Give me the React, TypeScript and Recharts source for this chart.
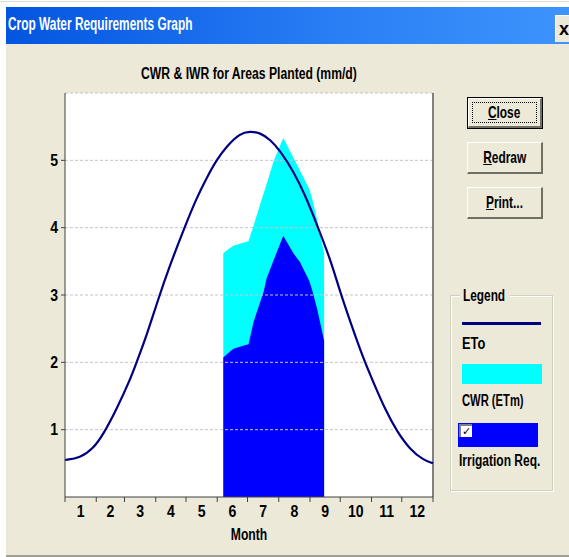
import React from "react"
import { ComposedChart, Line, Area, XAxis, YAxis, CartesianGrid, ReferenceLine } from "recharts"

// reference evapotranspiration (day of year -> mm/d)
const etoDays = [0, 15, 28, 38, 51, 64.5, 71, 81, 92.5, 104, 119, 130.5, 140.5, 150.5, 160.5, 173.5, 183.5, 193.5, 203.5, 213.5, 226.5, 238, 250, 263, 273, 283, 296, 306, 317.5, 329, 342.5, 355.5, 365]
const etoValues = [0.55, 0.58, 0.72, 0.93, 1.3, 1.74, 2.0, 2.4, 2.94, 3.44, 4.02, 4.44, 4.74, 5.01, 5.21, 5.4, 5.43, 5.41, 5.31, 5.14, 4.84, 4.49, 4.04, 3.54, 3.04, 2.6, 2.05, 1.7, 1.3, 0.98, 0.7, 0.55, 0.5]

// planted period: crop water requirement and irrigation requirement
const cropDays = [157, 162, 167, 175, 182, 187, 197, 200, 207, 216.5, 226.5, 233, 242, 245, 250, 257]
const cwrValues = [3.62, 3.68, 3.73, 3.77, 3.8, 4.03, 4.51, 4.65, 4.99, 5.33, 5.04, 4.85, 4.58, 4.44, 4.12, 3.62]
const iwrValues = [2.07, 2.14, 2.2, 2.24, 2.27, 2.6, 3.05, 3.25, 3.52, 3.88, 3.62, 3.49, 3.22, 3.08, 2.8, 2.32]

const monthStarts = [0, 31, 59, 90, 120, 151, 181, 212, 243, 273, 304, 334, 365]
const monthMids = [15.5, 45, 74.5, 105, 135.5, 166, 196.5, 227.5, 258, 288.5, 319, 349.5]
const monthLabels = ["1", "2", "3", "4", "5", "6", "7", "8", "9", "10", "11", "12"]
const yTicks = [1, 2, 3, 4, 5]

const FONT = '"Liberation Sans", Arial, sans-serif'
const FACE = "#ECE9D8"

// merge both series into one table sorted by day
const rows: any[] = []
etoDays.forEach((d, i) => rows.push({ day: d, eto: etoValues[i] }))
cropDays.forEach((d, i) => rows.push({ day: d, cwr: cwrValues[i], iwr: iwrValues[i] }))
rows.sort((a, b) => a.day - b.day)

// the old dialog font is a narrow one, squeeze text horizontally
function Sq({ s, origin = "left", children }: { s: number; origin?: string; children: any }) {
    return (
        <span style={{ display: "inline-block", transform: `scaleX(${s})`, transformOrigin: origin, whiteSpace: "nowrap" }}>
            {children}
        </span>
    )
}

const YTick = ({ x, y, payload }: any) => (
    <text
        transform={`translate(${x},${y}) scale(0.88,1)`}
        textAnchor="end"
        dy="0.36em"
        fontSize={16}
        fontFamily={FONT}
        fontWeight="bold"
        fill="#000"
    >
        {payload.value}
    </text>
)

const MonthTick = ({ x, y, payload }: any) => (
    <text
        transform={`translate(${x},${y}) scale(0.88,1)`}
        textAnchor="middle"
        dy="0.75em"
        fontSize={16}
        fontFamily={FONT}
        fontWeight="bold"
        fill="#000"
    >
        {monthLabels[monthMids.indexOf(payload.value)]}
    </text>
)

function Btn({ label, top, isDefault }: { label: string; top: number; isDefault?: boolean }) {
    return (
        <div
            style={{
                position: "absolute",
                left: 467,
                top,
                width: 76,
                height: 32,
                boxSizing: "border-box",
                border: isDefault ? "1px solid #000" : "none",
                background: FACE,
            }}
        >
            <div
                style={{
                    position: "absolute",
                    inset: 0,
                    borderTop: "1px solid #fff",
                    borderLeft: "1px solid #fff",
                    borderRight: "2px solid #716f64",
                    borderBottom: "2px solid #716f64",
                    display: "flex",
                    alignItems: "center",
                    justifyContent: "center",
                    fontFamily: FONT,
                    fontWeight: "bold",
                    fontSize: 17,
                    color: "#000",
                }}
            >
                {isDefault && (
                    <div style={{ position: "absolute", left: 3, top: 3, right: 3, bottom: 3, border: "1px dotted #000" }} />
                )}
                <Sq s={0.7} origin="center">
                    <span style={{ textDecoration: "underline" }}>{label[0]}</span>
                    {label.slice(1)}
                </Sq>
            </div>
        </div>
    )
}

const legendText = { position: "absolute" as const, fontFamily: FONT, fontWeight: "bold", fontSize: 16 }

export default function App() {
    return (
        <div style={{ position: "absolute", left: 0, top: 0, width: 569, height: 557, background: "#fff", overflow: "hidden" }}>
            <div style={{ position: "absolute", left: 0, top: 1, width: 569, height: 1, background: "#ddd" }} />
            {/* dialog body */}
            <div style={{ position: "absolute", left: 6, top: 7, width: 570, height: 548, background: FACE, borderBottom: "2px solid #a19f94" }} />
            {/* title bar */}
            <div
                style={{
                    position: "absolute",
                    left: 6,
                    top: 7,
                    width: 563,
                    height: 37,
                    background: "linear-gradient(to right, #0355e0, #2a7ff5 60%, #3e94fb)",
                }}
            />
            <div style={{ position: "absolute", left: 8, top: 14, color: "#fff", fontFamily: FONT, fontWeight: "bold", fontSize: 18 }}>
                <Sq s={0.66}>Crop Water Requirements Graph</Sq>
            </div>
            <div
                style={{
                    position: "absolute",
                    left: 555,
                    top: 15,
                    width: 20,
                    height: 27,
                    background: FACE,
                    borderLeft: "1px solid #fff",
                    borderTop: "1px solid #fff",
                    fontFamily: FONT,
                    fontWeight: "bold",
                    fontSize: 18,
                    lineHeight: "26px",
                    paddingLeft: 3,
                    boxSizing: "border-box",
                }}
            >
                x
            </div>

            {/* chart title */}
            <div
                style={{
                    position: "absolute",
                    left: 65,
                    width: 368,
                    top: 65,
                    textAlign: "center",
                    fontFamily: FONT,
                    fontWeight: "bold",
                    fontSize: 16,
                }}
            >
                <Sq s={0.76} origin="center">CWR &amp; IWR for Areas Planted (mm/d)</Sq>
            </div>

            <div style={{ position: "absolute", left: 0, top: 85 }}>
                <ComposedChart width={445} height={460} data={rows} margin={{ top: 8, right: 12, left: 0, bottom: 0 }}>
                    <CartesianGrid horizontal={false} vertical={false} fill="#fff" fillOpacity={1} />
                    <XAxis
                        type="number"
                        dataKey="day"
                        domain={[0, 365]}
                        ticks={monthStarts}
                        tickFormatter={() => ""}
                        tickSize={5}
                        height={6}
                        stroke="#404040"
                        interval={0}
                    />
                    <XAxis
                        xAxisId="lbl"
                        type="number"
                        dataKey="day"
                        domain={[0, 365]}
                        ticks={monthMids}
                        tick={<MonthTick />}
                        tickLine={false}
                        axisLine={false}
                        tickSize={0}
                        tickMargin={2}
                        height={42}
                        interval={0}
                    />
                    <YAxis
                        type="number"
                        domain={[0, 6]}
                        ticks={yTicks}
                        width={65}
                        tickSize={4}
                        tickMargin={3}
                        stroke="#404040"
                        allowDataOverflow
                        tick={<YTick />}
                    />
                    <Area
                        dataKey="cwr"
                        type="linear"
                        stroke="none"
                        fill="#00ffff"
                        fillOpacity={1}
                        connectNulls
                        isAnimationActive={false}
                    />
                    <Area
                        dataKey="iwr"
                        type="linear"
                        stroke="none"
                        fill="#0000ff"
                        fillOpacity={1}
                        connectNulls
                        isAnimationActive={false}
                    />
                    {yTicks.concat([6]).map((v) => (
                        <ReferenceLine key={v} y={v} stroke="#c4c4c4" strokeDasharray="3 2" />
                    ))}
                    <ReferenceLine x={365} stroke="#808080" strokeWidth={2} />
                    <Line
                        dataKey="eto"
                        type="basis"
                        stroke="#000080"
                        strokeWidth={2.2}
                        dot={false}
                        connectNulls
                        isAnimationActive={false}
                    />
                </ComposedChart>
            </div>
            {/* x axis title */}
            <div style={{ position: "absolute", left: 65, width: 368, top: 526, textAlign: "center", fontFamily: FONT, fontWeight: "bold", fontSize: 16 }}>
                <Sq s={0.76} origin="center">Month</Sq>
            </div>

            <Btn label="Close" top={97} isDefault />
            <Btn label="Redraw" top={142} />
            <Btn label="Print..." top={187} />

            {/* legend group box */}
            <div
                style={{
                    position: "absolute",
                    left: 450,
                    top: 295,
                    width: 103,
                    height: 196,
                    boxSizing: "border-box",
                    border: "1px solid #d0d0bf",
                    boxShadow: "inset 1px 1px 0 #fff, 1px 1px 0 #fff",
                }}
            />
            <div style={{ ...legendText, left: 460, top: 287, padding: "0 3px", background: FACE, width: 44 }}>
                <Sq s={0.74}>Legend</Sq>
            </div>
            <div style={{ position: "absolute", left: 462, top: 322, width: 79, height: 3, background: "#000080" }} />
            <div style={{ ...legendText, left: 462, top: 335 }}>
                <Sq s={0.8}>ETo</Sq>
            </div>
            <div style={{ position: "absolute", left: 462, top: 364, width: 80, height: 20, background: "#00ffff" }} />
            <div style={{ ...legendText, left: 462, top: 392 }}>
                <Sq s={0.7}>CWR (ETm)</Sq>
            </div>
            <div style={{ position: "absolute", left: 458, top: 423, width: 80, height: 24, background: "#0000ff" }} />
            <div
                style={{
                    position: "absolute",
                    left: 459,
                    top: 424,
                    width: 13,
                    height: 13,
                    boxSizing: "border-box",
                    background: "#fff",
                    borderTop: "2px solid #808080",
                    borderLeft: "2px solid #808080",
                    fontSize: 11,
                    lineHeight: "11px",
                    fontWeight: "bold",
                    fontFamily: "DejaVu Sans",
                    paddingLeft: 1,
                }}
            >
                ✓
            </div>
            <div style={{ ...legendText, left: 459, top: 452 }}>
                <Sq s={0.75}>Irrigation Req.</Sq>
            </div>
        </div>
    )
}
